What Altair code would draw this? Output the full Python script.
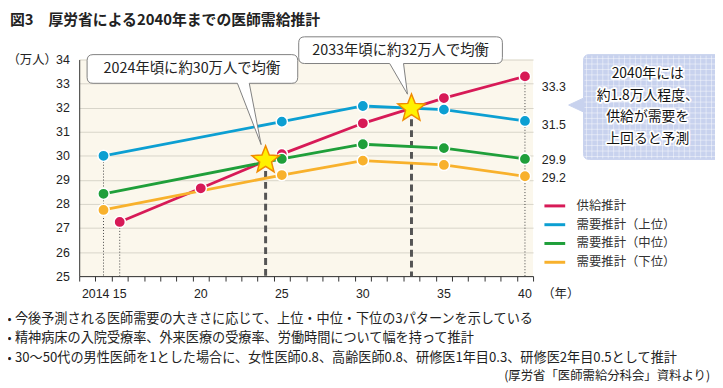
import math
import altair as alt
import pandas as pd

# ---------------- data ----------------
supply_years = [2015, 2020, 2025, 2030, 2035, 2040]
supply = [27.25, 28.65, 30.07, 31.35, 32.40, 33.30]
demand_years = [2014, 2025, 2030, 2035, 2040]
demand_high = [30.00, 31.42, 32.07, 31.92, 31.45]
demand_mid = [28.42, 29.87, 30.48, 30.32, 29.87]
demand_low = [27.75, 29.20, 29.80, 29.62, 29.15]

series = ["供給推計", "需要推計（上位）", "需要推計（中位）", "需要推計（下位）"]
colors = ["#d71a57", "#0c9fd2", "#1f9f3a", "#f8b12c"]

balance_years = [2024, 2033]
balance_values = [29.82, 31.97]
balance_texts = ["2024年頃に約30万人で均衡", "2033年頃に約32万人で均衡"]

end_labels = ["33.3", "31.5", "29.9", "29.2"]

tick_years = [2014, 2015, 2020, 2025, 2030, 2035, 2040]
tick_labels = ["2014", "15", "20", "25", "30", "35", "40"]

callout_lines = ["2040年には", "約1.8万人程度、", "供給が需要を", "上回ると予測"]
title_text = "図3　厚労省による2040年までの医師需給推計"
notes = [
    "今後予測される医師需要の大きさに応じて、上位・中位・下位の3パターンを示している",
    "精神病床の入院受療率、外来医療の受療率、労働時間について幅を持って推計",
    "30〜50代の男性医師を1とした場合に、女性医師0.8、高齢医師0.8、研修医1年目0.3、研修医2年目0.5として推計",
]
source_text = "(厚労省「医師需給分科会」資料より)"

# ---------------- tables ----------------
rows = []
for y, v in zip(supply_years, supply):
    rows.append({"series": series[0], "year": y, "value": v})
for name, vals in zip(series[1:], [demand_high, demand_mid, demand_low]):
    for y, v in zip(demand_years, vals):
        rows.append({"series": name, "year": y, "value": v})
df = pd.DataFrame(rows)

dotted = pd.DataFrame({
    "year": [demand_years[0], supply_years[0], supply_years[-1]],
    "value": [demand_high[0], supply[0], supply[-1]],
})
balance = pd.DataFrame({"year": balance_years, "value": balance_values})
ends = pd.DataFrame({
    "year": [supply_years[-1]] * 4,
    "value": [supply[-1], demand_high[-1], demand_mid[-1], demand_low[-1]],
    "label": end_labels,
})
ticks = pd.DataFrame({"year": tick_years, "label": tick_labels})
one = pd.DataFrame({"a": [0]})

W, H = 459, 219
JP = "Noto Sans CJK JP"
LAT = "Liberation Sans"

xs = alt.Scale(domain=[2012.5, 2040.5], nice=False, zero=False)
ys = alt.Scale(domain=[25, 34], nice=False, zero=False)
xaxis = alt.Axis(values=[2012.5 + i for i in range(29)], labels=False, ticks=True,
                 tickSize=5, tickColor="#333", domainColor="#333", grid=False, title=None)
yaxis = alt.Axis(values=list(range(25, 35)), ticks=False, labelPadding=10,
                 labelFont=LAT, labelFontSize=12.5, labelColor="#222",
                 domainColor="#333", grid=True, gridColor="#d8d4c9", title=None)


def X():
    return alt.X("year:Q", scale=xs, axis=xaxis)


def Y():
    return alt.Y("value:Q", scale=ys, axis=yaxis)


layers = []

# dotted guide lines
layers.append(alt.Chart(dotted).mark_rule(color="#444", strokeWidth=1, strokeDash=[1, 2]).encode(
    x=X(), y=Y(), y2=alt.datum(25)))
# dashed balance lines
layers.append(alt.Chart(balance).mark_rule(color="#555", strokeWidth=3, strokeDash=[7, 4]).encode(
    x=X(), y=Y(), y2=alt.datum(25)))

# series lines
layers.append(alt.Chart(df).mark_line(strokeWidth=2.8).encode(
    x=X(), y=Y(),
    color=alt.Color("series:N", scale=alt.Scale(domain=series, range=colors),
                    legend=alt.Legend(orient="none", legendX=469, legendY=136, title=None,
                                      symbolType="stroke", symbolSize=441, symbolStrokeWidth=3,
                                      labelFont=JP, labelFontSize=12.5, labelColor="#333",
                                      labelOffset=10, rowPadding=0, padding=0)),
    detail="series:N"))
# points
layers.append(alt.Chart(df).mark_point(filled=True, size=130, stroke="white", strokeWidth=1.5,
                                       opacity=1).encode(
    x=X(), y=Y(),
    fill=alt.Fill("series:N", scale=alt.Scale(domain=series, range=colors), legend=None)))

# stars
pts = []
for i in range(10):
    ang = -math.pi / 2 + i * math.pi / 5
    r = 14.5 if i % 2 == 0 else 6.3
    pts.append(f"{r * math.cos(ang):.2f},{r * math.sin(ang):.2f}")
star_path = "M" + "L".join(pts) + "Z"
layers.append(alt.Chart(balance).mark_point(shape=star_path, size=4, filled=True, fill="#fff100",
                                            stroke="#f08a00", strokeWidth=1.5, opacity=1).encode(
    x=X(), y=Y()))

# end labels
offs = [11, 4, 1, 2]
for i, o in enumerate(offs):
    layers.append(alt.Chart(ends.iloc[[i]]).mark_text(align="left", baseline="middle", dx=17, dy=o,
                                                     font=LAT, fontSize=12.5, color="#222").encode(
        x=X(), y=Y(), text="label:N"))

# x tick labels
layers.append(alt.Chart(ticks.iloc[1:]).mark_text(align="center", baseline="middle", font=LAT,
                                                  fontSize=12.5, color="#222").encode(
    x=X(), y=alt.value(H + 18), text="label:N"))
layers.append(alt.Chart(ticks.iloc[[0]]).mark_text(align="right", baseline="middle", dx=6, font=LAT,
                                                   fontSize=12.5, color="#222").encode(
    x=X(), y=alt.value(H + 18), text="label:N"))


# ---------------- callouts ----------------
def callout(path, fill, stroke):
    return alt.Chart(one).mark_point(shape=path, size=4, filled=True, fill=fill, stroke=stroke,
                                     strokeWidth=1, opacity=1).encode(x=alt.value(0), y=alt.value(0))


c1 = ("M14,-5L215,-5Q221,-5 221,1L221,18Q221,24 215,24L172,24L184,86L160,24L14,24"
      "Q8,24 8,18L8,1Q8,-5 14,-5Z")
c2 = ("M228,-23L422,-23Q428,-23 428,-17L428,-2Q428,4 422,4L328,4L332,35L314,4L228,4"
      "Q222,4 222,-2L222,-17Q222,-23 228,-23Z")
c3 = ("M516,-5L660,-5L660,101L516,101Q510,101 510,95L510,53L495,46L510,39L510,1"
      "Q510,-5 516,-5Z")
layers.append(callout(c1, "white", "#808080"))
layers.append(callout(c2, "white", "#808080"))
layers.append(callout(c3, "#c8d2ee", "#c8d2ee"))

# grid pattern inside the blue box
gv = pd.DataFrame({"px": [513 + 5.5 * i for i in range(38)]})
gh = pd.DataFrame({"py": [-1 + 5.5 * i for i in range(19)]})
layers.append(alt.Chart(gv).mark_rule(color="white", strokeWidth=1, opacity=0.45).encode(
    x=alt.X("px:Q", scale=None), y=alt.value(-4), y2=alt.value(100)))
layers.append(alt.Chart(gh).mark_rule(color="white", strokeWidth=1, opacity=0.45).encode(
    y=alt.Y("py:Q", scale=None), x=alt.value(511), x2=alt.value(723)))

cl = pd.DataFrame({"t": callout_lines, "py": [15, 36.5, 58.5, 80]})
for st, sw in [("white", 3.5), (None, 0)]:
    kw = dict(align="center", baseline="middle", font=JP, fontSize=14, fontWeight="normal",
              color="#111")
    if st:
        kw.update(stroke=st, strokeWidth=sw, strokeJoin="round")
    layers.append(alt.Chart(cl).mark_text(**kw).encode(
        x=alt.value(575), y=alt.Y("py:Q", scale=None), text="t:N"))

bt = pd.DataFrame({"t": balance_texts, "px": [114, 325], "py": [10, -9]})
layers.append(alt.Chart(bt).mark_text(align="center", baseline="middle", font=JP, fontSize=14.5,
                                      color="#222").encode(
    x=alt.X("px:Q", scale=None), y=alt.Y("py:Q", scale=None), text="t:N"))

# ---------------- surrounding text ----------------
def ptext(t, x, y, size=12.5, align="left", weight="normal", font=JP):
    return alt.Chart(pd.DataFrame({"t": [t]})).mark_text(
        align=align, baseline="middle", font=font, fontSize=size, fontWeight=weight,
        color="#222").encode(x=alt.value(x), y=alt.value(y), text="t:N")


layers.append(ptext(title_text, -70, -39.5, size=15, weight="bold"))
layers.append(ptext("（万人）", -47.5, 0, size=12.5, align="center"))
layers.append(ptext("（年）", 487, H + 18, size=12.5, align="center"))
for i, n in enumerate(notes):
    layers.append(ptext("•", -70.5, 262 + 20 * i, size=12, align="center"))
    layers.append(ptext(n, -65, 262 + 20 * i, size=13.3))
layers.append(ptext(source_text, 638, 320, size=12.5, align="right"))

chart = alt.layer(*layers).properties(
    width=W, height=H,
    autosize=alt.AutoSizeParams(type="none"),
    padding={"left": 72, "top": 50, "right": 184, "bottom": 111},
).configure_view(stroke=None, fill="#fbf7ec")

chart.save("out.html", embed_options={"renderer": "svg", "actions": False})
